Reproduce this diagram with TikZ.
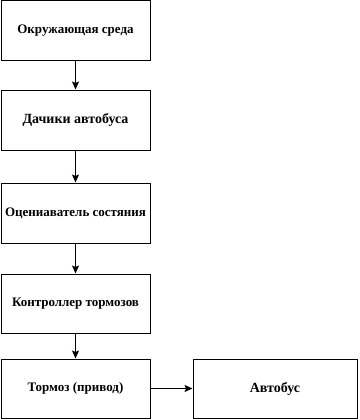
\documentclass[tikz,border=0pt]{standalone}
\usepackage{fontspec}
\setmainfont{Liberation Serif}
\usetikzlibrary{arrows.meta}
\begin{document}
\begin{tikzpicture}[x=1pt,y=-1pt,
  blk/.style={draw,line width=1pt,inner sep=0pt,font=\fontsize{13}{15}\selectfont\bfseries},
  big/.style={font=\fontsize{14}{16}\selectfont\bfseries},
  arr/.style={line width=1pt,-{Stealth[length=8pt,width=7pt,inset=1.5pt]}}]
\useasboundingbox (0,0) rectangle (359,420);
\node[blk,minimum width=149pt,minimum height=60pt] (a) at (75.5,31) {Окружающая среда};
\node[blk,big,minimum width=149pt,minimum height=60pt] (b) at (75.5,120) {Дачики автобуса};
\node[blk,minimum width=149pt,minimum height=60pt] (c) at (75.5,213) {Оцениаватель состяния};
\node[blk,minimum width=149pt,minimum height=59pt] (d) at (75.5,303.5) {Контроллер тормозов};
\node[blk,minimum width=149pt,minimum height=59pt] (e) at (75.5,388.5) {Тормоз (привод)};
\node[blk,big,minimum width=164pt,minimum height=59pt] (f) at (275,388.5) {Автобус};
\draw[arr] (a) -- (b);
\draw[arr] (b) -- (c);
\draw[arr] (c) -- (d);
\draw[arr] (d) -- (e);
\draw[arr] (e) -- (f);
\end{tikzpicture}
\end{document}
